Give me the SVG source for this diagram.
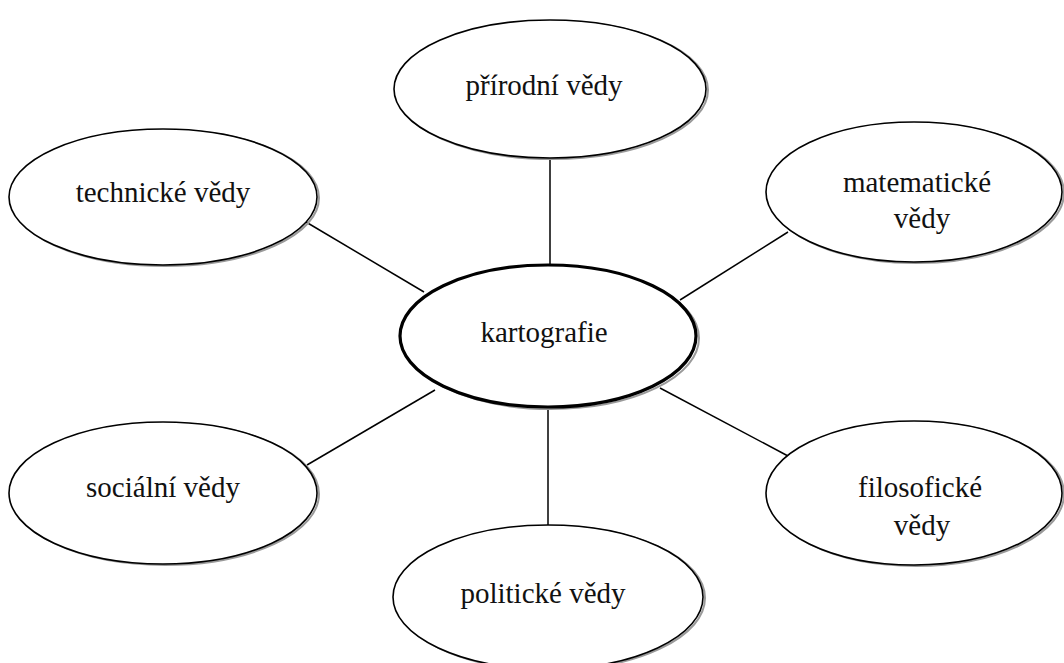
<svg xmlns="http://www.w3.org/2000/svg" width="1064" height="663" viewBox="0 0 1064 663">
<style>
.n{fill:#fff;stroke:#000;stroke-width:1.6}
.c{fill:#fff;stroke:#000;stroke-width:3.2}
.s{fill:none;stroke:#9a9a9a;stroke-width:2}
.t{font-family:"Liberation Serif","Times New Roman",serif;font-size:29px;fill:#111;text-anchor:middle}
.l{stroke:#000;stroke-width:1.5;fill:none}
</style>
<rect width="1064" height="663" fill="#fff"/>
<g id="connectors">
<line class="l" x1="550" y1="158" x2="550" y2="266"/>
<line class="l" x1="548" y1="408" x2="548" y2="526"/>
<line class="l" x1="306" y1="222" x2="424" y2="292"/>
<line class="l" x1="788" y1="232" x2="680" y2="300"/>
<line class="l" x1="307" y1="465" x2="435" y2="390"/>
<line class="l" x1="788" y1="456" x2="660" y2="388"/>
</g>
<g id="prirodni">
<ellipse class="s" cx="552" cy="90" rx="156" ry="69"/>
<ellipse class="n" cx="550" cy="89" rx="156" ry="69"/>
<text class="t" x="544" y="95">přírodní vědy</text>
</g>
<g id="technicke">
<ellipse class="s" cx="165" cy="198" rx="154" ry="68"/>
<ellipse class="n" cx="163" cy="197" rx="154" ry="68"/>
<text class="t" x="163" y="202">technické vědy</text>
</g>
<g id="matematicke">
<ellipse class="s" cx="916" cy="193" rx="148" ry="70"/>
<ellipse class="n" cx="914" cy="192" rx="148" ry="70"/>
<text class="t" x="917" y="192">matematické</text>
<text class="t" x="922" y="228">vědy</text>
</g>
<g id="kartografie">
<ellipse class="s" cx="551" cy="338" rx="148" ry="71"/>
<ellipse class="c" cx="548" cy="336" rx="148" ry="71"/>
<text class="t" x="544" y="342">kartografie</text>
</g>
<g id="socialni">
<ellipse class="s" cx="165" cy="494" rx="154" ry="71"/>
<ellipse class="n" cx="163" cy="493" rx="154" ry="71"/>
<text class="t" x="163" y="497">sociální vědy</text>
</g>
<g id="filosoficke">
<ellipse class="s" cx="916" cy="494" rx="148" ry="72"/>
<ellipse class="n" cx="914" cy="493" rx="148" ry="72"/>
<text class="t" x="920" y="497">filosofické</text>
<text class="t" x="922" y="535">vědy</text>
</g>
<g id="politicke">
<ellipse class="s" cx="550" cy="598" rx="155" ry="72"/>
<ellipse class="n" cx="548" cy="597" rx="155" ry="72"/>
<text class="t" x="543" y="603">politické vědy</text>
</g>
</svg>
